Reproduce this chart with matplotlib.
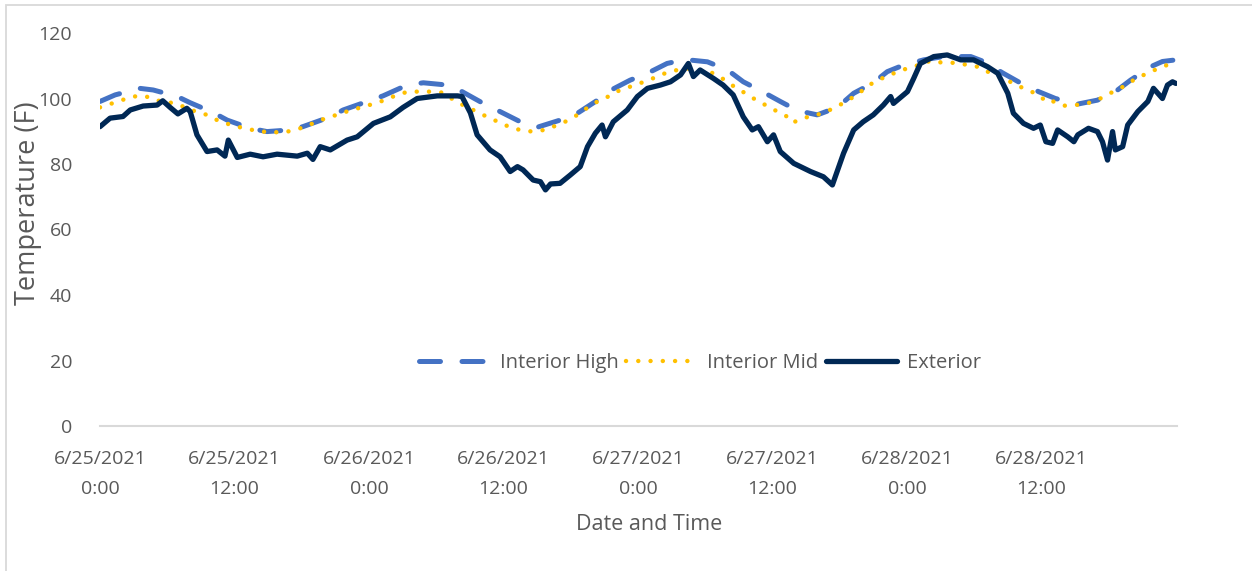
import matplotlib
matplotlib.use("Agg")
import matplotlib.pyplot as plt
from matplotlib.patches import Rectangle

# Hours elapsed since 6/25/2021 0:00 and temperatures (F)
exterior_hours = [0.0, 0.9, 2.05, 2.7, 3.85, 5.1, 5.6, 6.25, 6.95, 7.75, 8.05, 8.65, 9.55,
                  10.45, 11.15, 11.45, 12.25, 13.4, 14.55, 15.8, 17.6, 18.5, 19.0, 19.65,
                  20.55, 22.05, 22.95, 24.4, 25.9, 27.05, 28.3, 30.1, 31.9, 32.3, 33.05,
                  33.65, 34.55, 34.8, 35.7, 36.6, 37.25, 37.75, 38.65, 39.3, 39.75, 40.2,
                  41.05, 41.95, 42.85, 43.5, 44.2, 44.8, 45.1, 45.8, 47.05, 47.95, 48.85,
                  50.0, 50.9, 51.8, 52.5, 52.95, 53.55, 54.75, 55.6, 56.5, 57.4, 58.2,
                  58.75, 59.55, 60.1, 60.7, 61.9, 63.4, 64.55, 65.35, 66.35, 67.25, 68.1,
                  69.0, 69.9, 70.55, 70.8, 72.05, 72.6, 73.2, 74.4, 75.6, 76.8, 77.95,
                  79.2, 80.1, 81.0, 81.5, 82.4, 83.3, 83.9, 84.4, 85.0, 85.45, 86.35,
                  86.9, 87.25, 88.2, 89.0, 89.45, 89.9, 90.35, 90.6, 91.25, 91.7, 92.6,
                  93.5, 94.0, 94.8, 95.25, 95.7, 96.0]
exterior_temp = [91.4, 94.0, 94.5, 96.5, 97.7, 98.0, 99.3, 97.3, 95.3, 97.0, 96.0, 88.9, 83.8,
                 84.3, 82.4, 87.3, 82.0, 83.0, 82.2, 83.0, 82.4, 83.3, 81.4, 85.3,
                 84.3, 87.3, 88.3, 92.4, 94.4, 97.3, 100.0, 100.8, 100.8, 100.6, 95.6,
                 88.9, 85.3, 84.3, 82.2, 77.7, 79.2, 78.2, 75.1, 74.6, 72.1, 73.9,
                 74.1, 76.6, 79.2, 85.3, 89.4, 91.9, 88.3, 92.9, 96.5, 100.6, 103.1,
                 104.1, 105.1, 107.2, 110.7, 106.7, 108.7, 106.1, 104.1, 101.1, 94.4, 90.4,
                 91.4, 86.8, 88.9, 83.8, 80.2, 77.7, 76.1, 73.6, 83.3, 90.4, 92.9,
                 95.0, 98.0, 100.6, 98.5, 102.1, 106.1, 110.7, 112.8, 113.3, 111.8, 111.8,
                 109.7, 107.7, 101.6, 95.5, 92.4, 90.9, 91.9, 86.8, 86.3, 90.4, 88.3,
                 86.8, 88.9, 90.9, 89.9, 86.8, 81.2, 89.9, 84.3, 85.3, 91.9, 96.0,
                 99.1, 103.1, 100.0, 104.1, 105.1, 104.6]

high_hours = [0.0, 1.35, 3.55, 4.75, 6.9, 8.05, 10.1, 11.35, 13.4, 14.9, 16.95, 18.1, 20.55,
              21.7, 23.85, 25.25, 27.4, 28.85, 31.0, 32.15, 34.2, 35.7, 37.5, 39.0, 41.05,
              42.6, 44.4, 45.5, 47.3, 48.85, 50.6, 52.2, 54.2, 56.0, 57.4, 59.1, 60.7,
              62.25, 64.0, 65.8, 67.25, 69.0, 70.25, 71.7, 73.5, 75.25, 77.7, 78.85,
              80.6, 81.95, 83.75, 85.25, 87.25, 89.0, 90.8, 91.95, 93.75, 94.8, 96.0]
high_temp = [99.1, 101.1, 103.1, 102.6, 100.6, 98.7, 95.7, 93.4, 90.9, 89.9, 90.4, 91.4, 94.4,
             96.5, 99.1, 100.8, 104.1, 104.8, 104.1, 102.4, 98.5, 96.0, 92.9, 91.2, 93.4,
             95.5, 99.5, 102.4, 105.6, 107.7, 110.7, 111.9, 111.2, 108.7, 105.1, 102.1, 99.1,
             96.3, 95.0, 97.3, 101.6, 104.8, 108.2, 110.2, 111.8, 112.8, 112.8, 111.3,
             107.7, 105.1, 102.1, 100.0, 98.3, 99.5, 102.6, 105.6, 109.7, 111.3, 111.8]

mid_hours = [0.0, 0.9, 1.95, 2.95, 4.0, 4.9, 6.7, 7.6, 8.55, 9.55, 10.45, 11.25, 12.25, 13.3,
             14.4, 15.45, 16.45, 17.4, 18.5, 19.45, 20.45, 21.5, 22.5, 23.5, 24.55, 25.55,
             26.5, 27.5, 28.4, 29.45, 30.55, 31.95, 32.85, 33.75, 34.8, 35.7, 36.6, 37.7,
             38.65, 39.65, 40.6, 41.7, 42.6, 43.5, 44.4, 45.35, 46.25, 47.3, 48.3, 49.3,
             50.25, 51.25, 52.2, 53.1, 54.0, 54.9, 55.9, 56.8, 57.7, 58.55, 59.55, 60.45,
             61.35, 61.8, 62.7, 63.65, 64.65, 65.6, 66.6, 67.5, 68.4, 69.2, 70.2, 71.15,
             72.05, 73.05, 74.1, 75.25, 76.35, 78.3, 79.2, 81.05, 81.95, 82.95, 83.85,
             84.55, 85.1, 86.0, 87.05, 88.1, 89.1, 90.0, 91.05, 91.95, 92.95, 93.95,
             94.9, 95.8]
mid_temp = [97.3, 98.3, 99.5, 100.6, 100.8, 99.5, 98.5, 97.3, 96.0, 95.0, 93.4, 92.4, 91.4, 90.6,
            89.9, 89.7, 89.7, 90.4, 91.6, 93.2, 94.2, 95.5, 96.5, 97.5, 98.5, 99.7,
            101.1, 102.1, 102.1, 102.1, 101.8, 98.7, 97.3, 95.7, 94.0, 92.6, 91.2, 90.2,
            89.9, 90.4, 91.6, 93.2, 95.0, 97.2, 99.1, 100.6, 102.3, 103.6, 104.8, 106.1,
            107.5, 108.5, 109.2, 108.9, 108.5, 107.5, 105.3, 103.1, 101.4, 99.5, 97.7, 96.0,
            94.4, 92.6, 94.0, 94.7, 95.7, 97.3, 99.1, 101.1, 103.4, 105.4, 106.7, 108.2,
            109.2, 110.2, 111.5, 110.9, 110.9, 109.7, 108.2, 105.4, 103.8, 102.4, 100.8,
            98.7, 99.1, 97.8, 98.0, 98.5, 99.7, 101.4, 103.1, 105.1, 106.9, 108.5,
            109.7, 111.3]

tick_hours = [0, 12, 24, 36, 48, 60, 72, 84]
tick_labels = ["6/25/2021\n0:00", "6/25/2021\n12:00", "6/26/2021\n0:00", "6/26/2021\n12:00",
               "6/27/2021\n0:00", "6/27/2021\n12:00", "6/28/2021\n0:00", "6/28/2021\n12:00"]
y_ticks = [0, 20, 40, 60, 80, 100, 120]

TEXT = "#595959"
plt.rcParams["font.family"] = ["Open Sans", "DejaVu Sans"]

W, H = 1252, 571
fig = plt.figure(figsize=(W / 100, H / 100), dpi=100)
ax = fig.add_axes([100 / W, 1 - 426 / H, 1077 / W, 393 / H])

ax.plot(high_hours, high_temp, color="#4472C4", lw=3.6,
        linestyle=(0, (4.2, 4.3)), dash_capstyle="round", label="Interior High", zorder=2)
ax.plot(mid_hours, mid_temp, color="#FFC000", lw=3.2,
        linestyle=(0, (0.01, 2.75)), dash_capstyle="round", label="Interior Mid", zorder=3)
ax.plot(exterior_hours, exterior_temp, color="#002855", lw=3.8,
        solid_capstyle="round", solid_joinstyle="round", label="Exterior", zorder=4)

ax.set_xlim(0, 96.1)
ax.set_ylim(0, 120)
ax.set_yticks(y_ticks)
ax.set_xticks(tick_hours)
ax.set_xticklabels(tick_labels, linespacing=1.85)
ax.tick_params(axis="both", length=0, labelsize=14, colors=TEXT)
ax.tick_params(axis="y", pad=20)
ax.tick_params(axis="x", pad=17)

for side in ("top", "right", "left"):
    ax.spines[side].set_visible(False)
ax.spines["bottom"].set_color("#D9D9D9")
ax.spines["bottom"].set_linewidth(1.5)

fig.text(28 / W, 1 - 203 / H, "Temperature (F)", fontsize=19.5, color=TEXT,
         rotation=90, ha="center", va="center")
fig.text(649 / W, 1 - 524 / H, "Date and Time", fontsize=15.5, color=TEXT,
         ha="center", va="center")

leg = ax.legend(loc="center", bbox_to_anchor=(0.557, 0.16), ncol=3, frameon=False,
                fontsize=14.5, handlelength=3.5, handletextpad=0.5, columnspacing=0.4)
for text in leg.get_texts():
    text.set_color(TEXT)

fig.patches.append(Rectangle((6 / W, -0.1), 1.2, 1.1 - 5 / H, fill=False,
                             edgecolor="#D9D9D9", lw=1.3, transform=fig.transFigure))

fig.savefig("out.png", dpi=100, facecolor="white")
